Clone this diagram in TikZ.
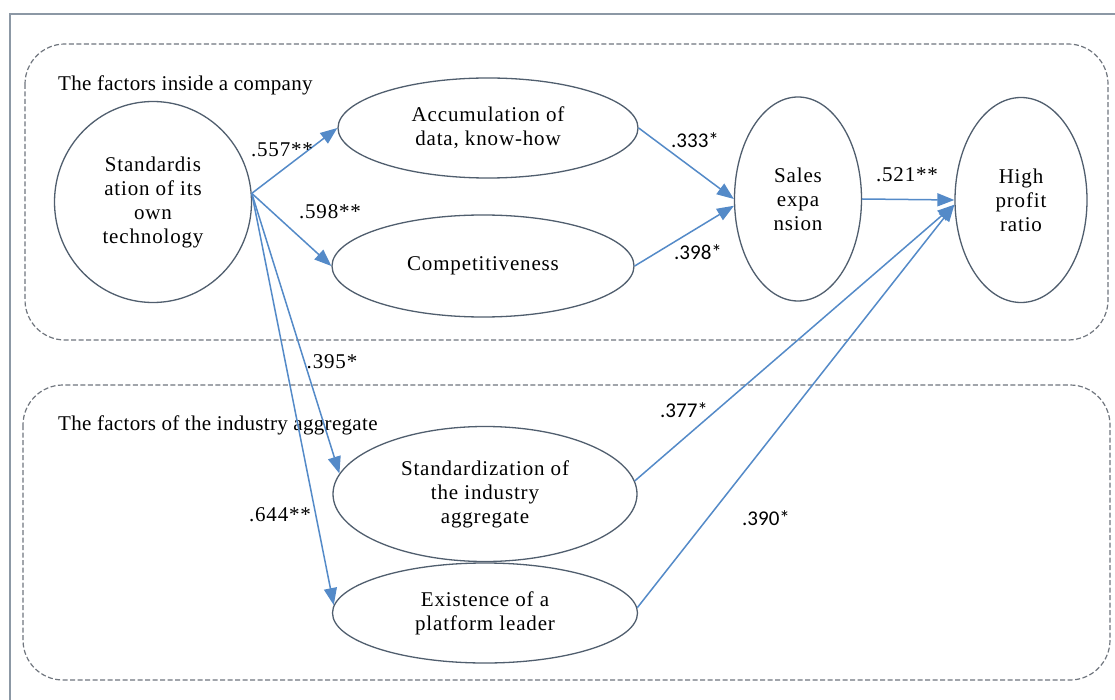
\documentclass[tikz,border=0pt]{standalone}
\usepackage{fontspec}
\setmainfont{Liberation Serif}[LetterSpace=4]
\newfontfamily\labelfont{Liberation Serif}[LetterSpace=1.5]
\newfontfamily\numsans{Carlito}
\usetikzlibrary{shapes.geometric,arrows.meta}
\definecolor{arrowblue}{RGB}{84,138,200}
\definecolor{outline}{RGB}{80,94,110}
\definecolor{dashgray}{RGB}{112,118,126}
\definecolor{framegray}{RGB}{140,152,165}
\begin{document}
\begin{tikzpicture}[x=1pt,y=-1pt,
  ell/.style={ellipse,draw=outline,line width=1.3pt,inner sep=0pt,align=center,
    font=\fontsize{21}{24}\selectfont},
  arr/.style={draw=arrowblue,line width=1.5pt,-{Triangle[length=17pt,width=13pt]}},
  grp/.style={draw=dashgray,line width=1.2pt,dash pattern=on 5pt off 2.5pt,rounded corners=40pt},
  glbl/.style={font=\labelfont\fontsize{21}{24}\selectfont,inner sep=0pt},
  lbl/.style={font=\fontsize{21}{24}\selectfont,inner sep=0pt},
  slbl/.style={font=\numsans\fontsize{21}{24}\selectfont,inner sep=0pt}]
\useasboundingbox (0,0) rectangle (1115,700);
\fill[white] (0,0) rectangle (1115,700);
\clip (0,0) rectangle (1115,700);
\draw[framegray,line width=2pt] (10,14) rectangle (1130,720);
% groups
\draw[grp] (25,44) rectangle (1108,340);
\draw[grp] (23,385) rectangle (1110,680);
\node[glbl,anchor=west] (g1) at (58,85) {The factors inside a company};
\node[glbl,anchor=west] (g2) at (58,425) {The factors of the industry aggregate};
% nodes
\node[ell,minimum width=197pt,minimum height=201pt] (std) at (153,202) {Standardis\\ation of its\\own\\technology};
\node[ell,minimum width=300pt,minimum height=100pt] (acc) at (488,128) {Accumulation of\\data, know-how};
\node[ell,minimum width=302pt,minimum height=102pt] (comp) at (483,266) {Competitiveness};
\node[ell,minimum width=127pt,minimum height=204pt] (sales) at (798,199) {Sales\\expa\\nsion};
\node[ell,minimum width=132pt,minimum height=205pt] (high) at (1021,200) {High\\profit\\ratio};
\node[ell,minimum width=304pt,minimum height=135pt] (ind) at (485,494) {Standardization of\\the industry\\aggregate};
\node[ell,minimum width=305pt,minimum height=100pt] (ex) at (485,613) {Existence of a\\platform leader};
% connectors
\draw[arr] (std.5) -- (acc.west);
\draw[arr] (std.5) -- (comp.west);
\draw[arr] (std.5) -- (ind.172);
\draw[arr] (std.5) -- (ex.177);
\draw[arr] (acc.east) -- (sales.west);
\draw[arr] (comp.east) -- (sales.186);
\draw[arr] (sales.east) -- (high.west);
\draw[arr] (ind.5) -- (high.184);
\draw[arr] (ex.2) -- (high.184);
% coefficient labels
\node[lbl] (c557) at (282,150) {.557**};
\node[lbl] (c598) at (330,212) {.598**};
\node[slbl] (c333) at (695,140) {.333*};
\node[slbl] (c398) at (698,252) {.398*};
\node[lbl] (c521) at (907,175) {.521**};
\node[lbl] (c395) at (332,362) {.395*};
\node[slbl] (c377) at (684,410) {.377*};
\node[lbl] (c644) at (280,515) {.644**};
\node[slbl] (c390) at (766,518) {.390*};
\end{tikzpicture}
\end{document}
